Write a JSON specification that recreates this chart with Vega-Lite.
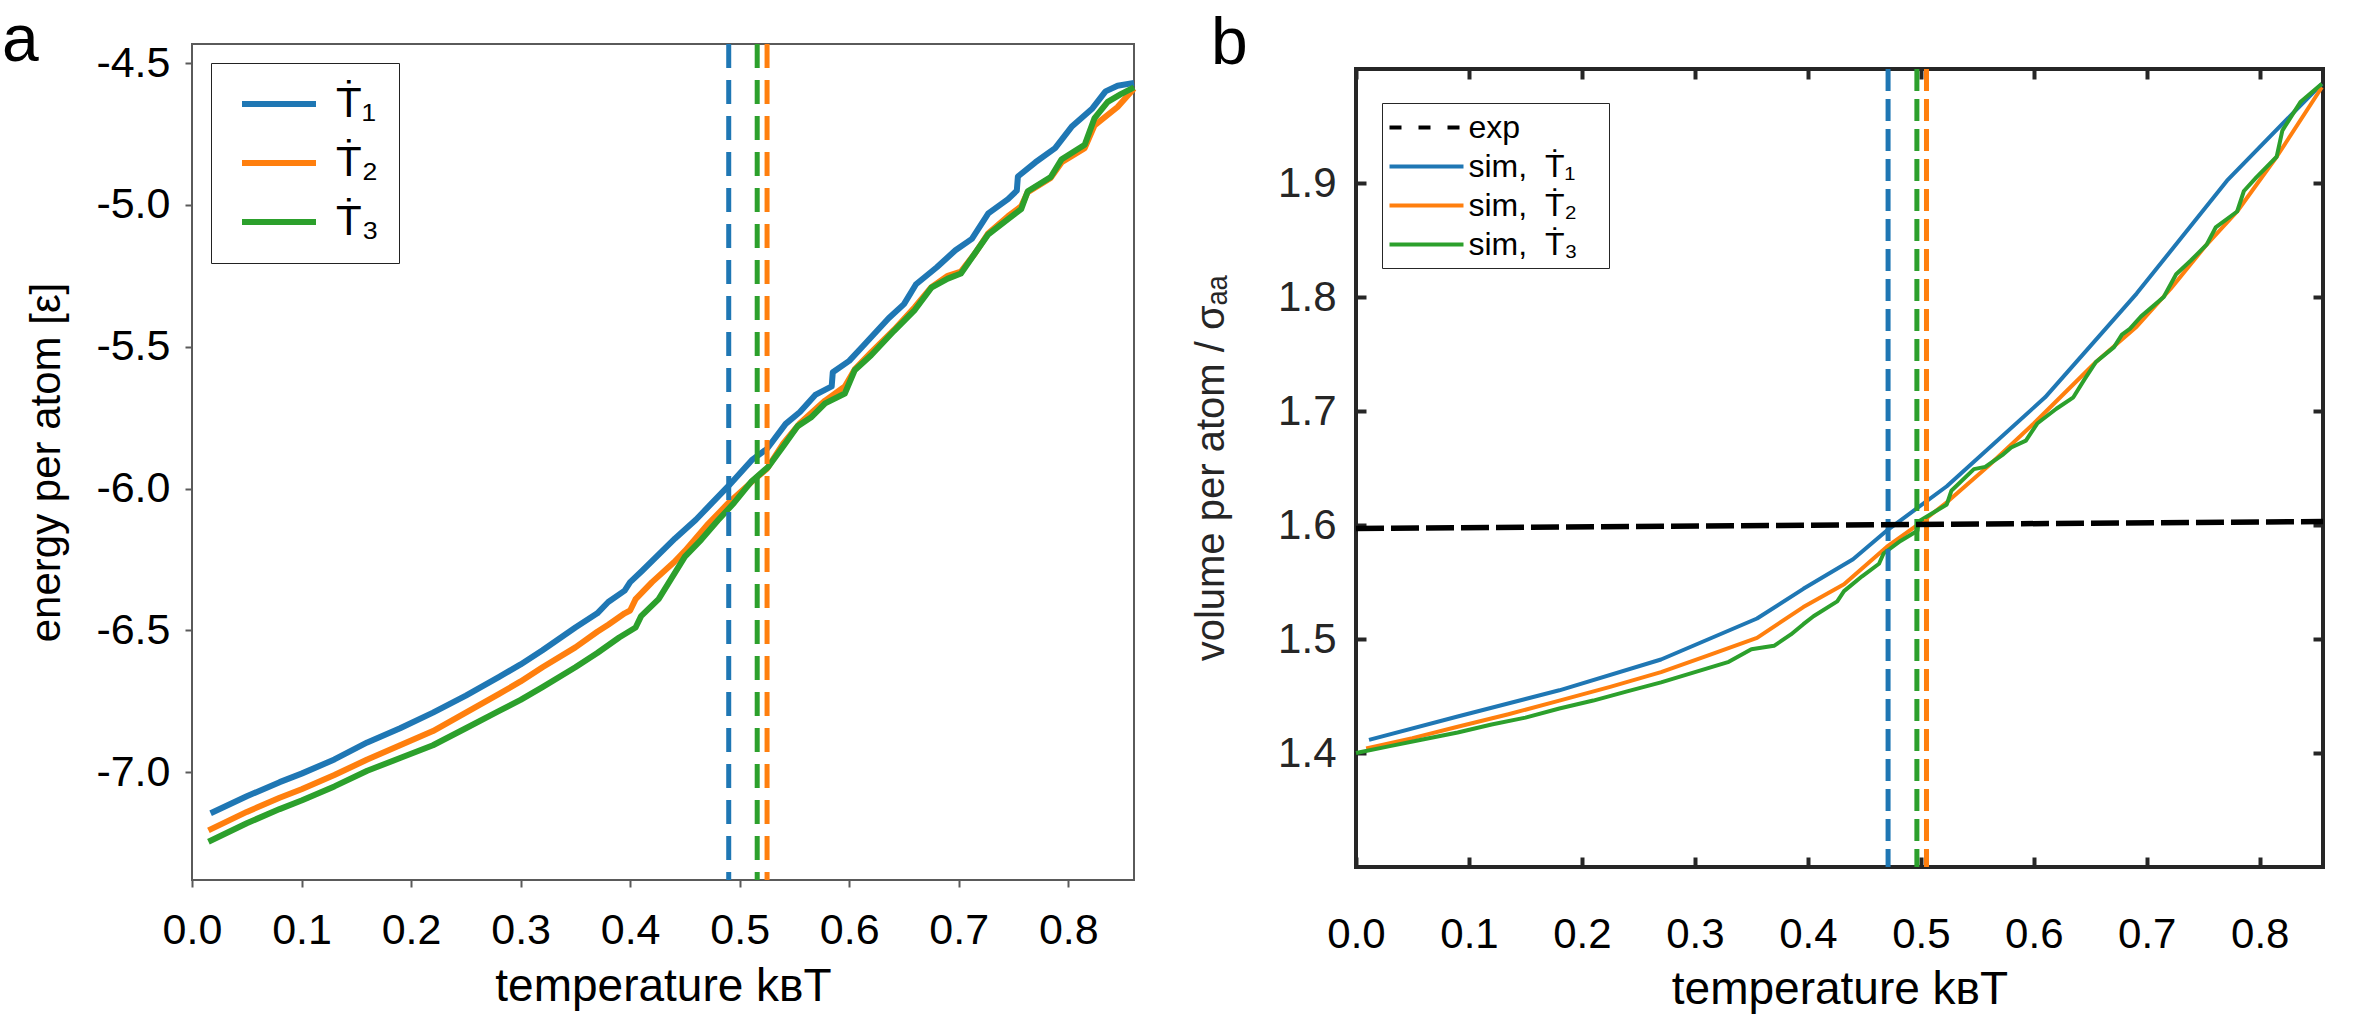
{
  "$schema": "https://vega.github.io/schema/vega-lite/v6.json",
  "padding": {"left": 0, "top": 7, "right": 0, "bottom": 0},
  "spacing": 51,
  "config": {
    "font": "Liberation Sans",
    "locale": {"number": {"decimal": ".", "thousands": ",", "grouping": [3], "currency": ["", ""], "minus": "-"}},
    "axis": {"grid": false, "labelFont": "Liberation Sans", "titleFont": "Liberation Sans", "titleFontWeight": "normal", "labelFlush": false, "labelOverlap": false, "domain": false},
    "legend": {"labelFont": "Liberation Sans", "labelLimit": 500}
  },
  "resolve": {"scale": {"color": "independent"}, "legend": {"color": "independent"}},
  "datasets": {
    "energy": [
      {"s": "Ṫ₁", "T": 0.017, "E": -7.145}, {"s": "Ṫ₁", "T": 0.05, "E": -7.085}, {"s": "Ṫ₁", "T": 0.08, "E": -7.035}, {"s": "Ṫ₁", "T": 0.10, "E": -7.005},
      {"s": "Ṫ₁", "T": 0.13, "E": -6.955}, {"s": "Ṫ₁", "T": 0.16, "E": -6.895}, {"s": "Ṫ₁", "T": 0.19, "E": -6.845}, {"s": "Ṫ₁", "T": 0.22, "E": -6.79},
      {"s": "Ṫ₁", "T": 0.25, "E": -6.73}, {"s": "Ṫ₁", "T": 0.28, "E": -6.665}, {"s": "Ṫ₁", "T": 0.30, "E": -6.62}, {"s": "Ṫ₁", "T": 0.32, "E": -6.57},
      {"s": "Ṫ₁", "T": 0.35, "E": -6.49}, {"s": "Ṫ₁", "T": 0.37, "E": -6.44}, {"s": "Ṫ₁", "T": 0.38, "E": -6.40}, {"s": "Ṫ₁", "T": 0.395, "E": -6.36},
      {"s": "Ṫ₁", "T": 0.40, "E": -6.33}, {"s": "Ṫ₁", "T": 0.411, "E": -6.29}, {"s": "Ṫ₁", "T": 0.441, "E": -6.176}, {"s": "Ṫ₁", "T": 0.46, "E": -6.11},
      {"s": "Ṫ₁", "T": 0.475, "E": -6.05}, {"s": "Ṫ₁", "T": 0.49, "E": -5.99}, {"s": "Ṫ₁", "T": 0.511, "E": -5.90}, {"s": "Ṫ₁", "T": 0.525, "E": -5.86},
      {"s": "Ṫ₁", "T": 0.542, "E": -5.772}, {"s": "Ṫ₁", "T": 0.555, "E": -5.73}, {"s": "Ṫ₁", "T": 0.569, "E": -5.67}, {"s": "Ṫ₁", "T": 0.584, "E": -5.64},
      {"s": "Ṫ₁", "T": 0.585, "E": -5.59}, {"s": "Ṫ₁", "T": 0.60, "E": -5.55}, {"s": "Ṫ₁", "T": 0.612, "E": -5.50}, {"s": "Ṫ₁", "T": 0.636, "E": -5.40},
      {"s": "Ṫ₁", "T": 0.65, "E": -5.35}, {"s": "Ṫ₁", "T": 0.661, "E": -5.28}, {"s": "Ṫ₁", "T": 0.68, "E": -5.22}, {"s": "Ṫ₁", "T": 0.697, "E": -5.16},
      {"s": "Ṫ₁", "T": 0.712, "E": -5.12}, {"s": "Ṫ₁", "T": 0.727, "E": -5.03}, {"s": "Ṫ₁", "T": 0.745, "E": -4.98}, {"s": "Ṫ₁", "T": 0.753, "E": -4.95},
      {"s": "Ṫ₁", "T": 0.754, "E": -4.90}, {"s": "Ṫ₁", "T": 0.77, "E": -4.85}, {"s": "Ṫ₁", "T": 0.788, "E": -4.80}, {"s": "Ṫ₁", "T": 0.803, "E": -4.725},
      {"s": "Ṫ₁", "T": 0.822, "E": -4.66}, {"s": "Ṫ₁", "T": 0.834, "E": -4.60}, {"s": "Ṫ₁", "T": 0.845, "E": -4.58}, {"s": "Ṫ₁", "T": 0.86, "E": -4.57},
      {"s": "Ṫ₂", "T": 0.015, "E": -7.205}, {"s": "Ṫ₂", "T": 0.05, "E": -7.14}, {"s": "Ṫ₂", "T": 0.08, "E": -7.09}, {"s": "Ṫ₂", "T": 0.10, "E": -7.06},
      {"s": "Ṫ₂", "T": 0.13, "E": -7.01}, {"s": "Ṫ₂", "T": 0.16, "E": -6.955}, {"s": "Ṫ₂", "T": 0.19, "E": -6.905}, {"s": "Ṫ₂", "T": 0.22, "E": -6.855},
      {"s": "Ṫ₂", "T": 0.25, "E": -6.79}, {"s": "Ṫ₂", "T": 0.28, "E": -6.725}, {"s": "Ṫ₂", "T": 0.30, "E": -6.68}, {"s": "Ṫ₂", "T": 0.32, "E": -6.63},
      {"s": "Ṫ₂", "T": 0.35, "E": -6.56}, {"s": "Ṫ₂", "T": 0.37, "E": -6.505}, {"s": "Ṫ₂", "T": 0.38, "E": -6.48}, {"s": "Ṫ₂", "T": 0.395, "E": -6.44},
      {"s": "Ṫ₂", "T": 0.40, "E": -6.43}, {"s": "Ṫ₂", "T": 0.405, "E": -6.39}, {"s": "Ṫ₂", "T": 0.42, "E": -6.33}, {"s": "Ṫ₂", "T": 0.44, "E": -6.26},
      {"s": "Ṫ₂", "T": 0.45, "E": -6.22}, {"s": "Ṫ₂", "T": 0.47, "E": -6.13}, {"s": "Ṫ₂", "T": 0.49, "E": -6.05}, {"s": "Ṫ₂", "T": 0.51, "E": -5.98},
      {"s": "Ṫ₂", "T": 0.525, "E": -5.93}, {"s": "Ṫ₂", "T": 0.54, "E": -5.84}, {"s": "Ṫ₂", "T": 0.555, "E": -5.77}, {"s": "Ṫ₂", "T": 0.578, "E": -5.69},
      {"s": "Ṫ₂", "T": 0.596, "E": -5.64}, {"s": "Ṫ₂", "T": 0.605, "E": -5.58}, {"s": "Ṫ₂", "T": 0.62, "E": -5.52}, {"s": "Ṫ₂", "T": 0.641, "E": -5.44},
      {"s": "Ṫ₂", "T": 0.66, "E": -5.36}, {"s": "Ṫ₂", "T": 0.675, "E": -5.29}, {"s": "Ṫ₂", "T": 0.69, "E": -5.25}, {"s": "Ṫ₂", "T": 0.702, "E": -5.235},
      {"s": "Ṫ₂", "T": 0.715, "E": -5.17}, {"s": "Ṫ₂", "T": 0.727, "E": -5.10}, {"s": "Ṫ₂", "T": 0.745, "E": -5.04}, {"s": "Ṫ₂", "T": 0.757, "E": -5.005},
      {"s": "Ṫ₂", "T": 0.763, "E": -4.955}, {"s": "Ṫ₂", "T": 0.784, "E": -4.905}, {"s": "Ṫ₂", "T": 0.794, "E": -4.85}, {"s": "Ṫ₂", "T": 0.815, "E": -4.80},
      {"s": "Ṫ₂", "T": 0.824, "E": -4.72}, {"s": "Ṫ₂", "T": 0.845, "E": -4.655}, {"s": "Ṫ₂", "T": 0.86, "E": -4.59},
      {"s": "Ṫ₃", "T": 0.015, "E": -7.245}, {"s": "Ṫ₃", "T": 0.05, "E": -7.18}, {"s": "Ṫ₃", "T": 0.08, "E": -7.13}, {"s": "Ṫ₃", "T": 0.10, "E": -7.10},
      {"s": "Ṫ₃", "T": 0.13, "E": -7.05}, {"s": "Ṫ₃", "T": 0.16, "E": -6.995}, {"s": "Ṫ₃", "T": 0.19, "E": -6.95}, {"s": "Ṫ₃", "T": 0.22, "E": -6.905},
      {"s": "Ṫ₃", "T": 0.25, "E": -6.845}, {"s": "Ṫ₃", "T": 0.28, "E": -6.785}, {"s": "Ṫ₃", "T": 0.30, "E": -6.745}, {"s": "Ṫ₃", "T": 0.32, "E": -6.70},
      {"s": "Ṫ₃", "T": 0.35, "E": -6.63}, {"s": "Ṫ₃", "T": 0.37, "E": -6.58}, {"s": "Ṫ₃", "T": 0.39, "E": -6.525}, {"s": "Ṫ₃", "T": 0.405, "E": -6.49},
      {"s": "Ṫ₃", "T": 0.41, "E": -6.45}, {"s": "Ṫ₃", "T": 0.426, "E": -6.39}, {"s": "Ṫ₃", "T": 0.45, "E": -6.24}, {"s": "Ṫ₃", "T": 0.465, "E": -6.18},
      {"s": "Ṫ₃", "T": 0.48, "E": -6.113}, {"s": "Ṫ₃", "T": 0.495, "E": -6.05}, {"s": "Ṫ₃", "T": 0.511, "E": -5.974}, {"s": "Ṫ₃", "T": 0.526, "E": -5.924},
      {"s": "Ṫ₃", "T": 0.54, "E": -5.85}, {"s": "Ṫ₃", "T": 0.553, "E": -5.78}, {"s": "Ṫ₃", "T": 0.565, "E": -5.75}, {"s": "Ṫ₃", "T": 0.578, "E": -5.70},
      {"s": "Ṫ₃", "T": 0.596, "E": -5.665}, {"s": "Ṫ₃", "T": 0.605, "E": -5.583}, {"s": "Ṫ₃", "T": 0.62, "E": -5.53}, {"s": "Ṫ₃", "T": 0.641, "E": -5.444},
      {"s": "Ṫ₃", "T": 0.66, "E": -5.37}, {"s": "Ṫ₃", "T": 0.675, "E": -5.292}, {"s": "Ṫ₃", "T": 0.69, "E": -5.26}, {"s": "Ṫ₃", "T": 0.702, "E": -5.242},
      {"s": "Ṫ₃", "T": 0.715, "E": -5.17}, {"s": "Ṫ₃", "T": 0.727, "E": -5.104}, {"s": "Ṫ₃", "T": 0.745, "E": -5.05}, {"s": "Ṫ₃", "T": 0.757, "E": -5.015},
      {"s": "Ṫ₃", "T": 0.763, "E": -4.952}, {"s": "Ṫ₃", "T": 0.784, "E": -4.902}, {"s": "Ṫ₃", "T": 0.794, "E": -4.839}, {"s": "Ṫ₃", "T": 0.815, "E": -4.788},
      {"s": "Ṫ₃", "T": 0.824, "E": -4.694}, {"s": "Ṫ₃", "T": 0.836, "E": -4.637}, {"s": "Ṫ₃", "T": 0.848, "E": -4.61}, {"s": "Ṫ₃", "T": 0.86, "E": -4.586}
    ],
    "tc_a": [
      {"s": "Ṫ₁", "T": 0.490}, {"s": "Ṫ₂", "T": 0.525}, {"s": "Ṫ₃", "T": 0.516}
    ],
    "volume": [
      {"s": "sim,\u00a0\u00a0Ṫ₁", "T": 0.0115, "V": 1.4115}, {"s": "sim,\u00a0\u00a0Ṫ₁", "T": 0.09, "V": 1.432}, {"s": "sim,\u00a0\u00a0Ṫ₁", "T": 0.18, "V": 1.455},
      {"s": "sim,\u00a0\u00a0Ṫ₁", "T": 0.27, "V": 1.482}, {"s": "sim,\u00a0\u00a0Ṫ₁", "T": 0.355, "V": 1.518}, {"s": "sim,\u00a0\u00a0Ṫ₁", "T": 0.396, "V": 1.544},
      {"s": "sim,\u00a0\u00a0Ṫ₁", "T": 0.44, "V": 1.570}, {"s": "sim,\u00a0\u00a0Ṫ₁", "T": 0.471, "V": 1.596}, {"s": "sim,\u00a0\u00a0Ṫ₁", "T": 0.523, "V": 1.634},
      {"s": "sim,\u00a0\u00a0Ṫ₁", "T": 0.61, "V": 1.712}, {"s": "sim,\u00a0\u00a0Ṫ₁", "T": 0.691, "V": 1.803}, {"s": "sim,\u00a0\u00a0Ṫ₁", "T": 0.771, "V": 1.902},
      {"s": "sim,\u00a0\u00a0Ṫ₁", "T": 0.836, "V": 1.968}, {"s": "sim,\u00a0\u00a0Ṫ₁", "T": 0.855, "V": 1.987},
      {"s": "sim,\u00a0\u00a0Ṫ₂", "T": 0.009, "V": 1.404}, {"s": "sim,\u00a0\u00a0Ṫ₂", "T": 0.05, "V": 1.413}, {"s": "sim,\u00a0\u00a0Ṫ₂", "T": 0.09, "V": 1.423},
      {"s": "sim,\u00a0\u00a0Ṫ₂", "T": 0.135, "V": 1.434}, {"s": "sim,\u00a0\u00a0Ṫ₂", "T": 0.18, "V": 1.446}, {"s": "sim,\u00a0\u00a0Ṫ₂", "T": 0.225, "V": 1.458},
      {"s": "sim,\u00a0\u00a0Ṫ₂", "T": 0.27, "V": 1.471}, {"s": "sim,\u00a0\u00a0Ṫ₂", "T": 0.31, "V": 1.485}, {"s": "sim,\u00a0\u00a0Ṫ₂", "T": 0.355, "V": 1.501},
      {"s": "sim,\u00a0\u00a0Ṫ₂", "T": 0.396, "V": 1.528}, {"s": "sim,\u00a0\u00a0Ṫ₂", "T": 0.432, "V": 1.548}, {"s": "sim,\u00a0\u00a0Ṫ₂", "T": 0.47, "V": 1.581},
      {"s": "sim,\u00a0\u00a0Ṫ₂", "T": 0.504, "V": 1.605}, {"s": "sim,\u00a0\u00a0Ṫ₂", "T": 0.523, "V": 1.620}, {"s": "sim,\u00a0\u00a0Ṫ₂", "T": 0.56, "V": 1.652},
      {"s": "sim,\u00a0\u00a0Ṫ₂", "T": 0.6, "V": 1.689}, {"s": "sim,\u00a0\u00a0Ṫ₂", "T": 0.655, "V": 1.743}, {"s": "sim,\u00a0\u00a0Ṫ₂", "T": 0.691, "V": 1.774},
      {"s": "sim,\u00a0\u00a0Ṫ₂", "T": 0.721, "V": 1.807}, {"s": "sim,\u00a0\u00a0Ṫ₂", "T": 0.753, "V": 1.846}, {"s": "sim,\u00a0\u00a0Ṫ₂", "T": 0.780, "V": 1.875},
      {"s": "sim,\u00a0\u00a0Ṫ₂", "T": 0.815, "V": 1.923}, {"s": "sim,\u00a0\u00a0Ṫ₂", "T": 0.855, "V": 1.984},
      {"s": "sim,\u00a0\u00a0Ṫ₃", "T": 0.0, "V": 1.400}, {"s": "sim,\u00a0\u00a0Ṫ₃", "T": 0.03, "V": 1.406}, {"s": "sim,\u00a0\u00a0Ṫ₃", "T": 0.06, "V": 1.412},
      {"s": "sim,\u00a0\u00a0Ṫ₃", "T": 0.09, "V": 1.418}, {"s": "sim,\u00a0\u00a0Ṫ₃", "T": 0.12, "V": 1.425}, {"s": "sim,\u00a0\u00a0Ṫ₃", "T": 0.15, "V": 1.431},
      {"s": "sim,\u00a0\u00a0Ṫ₃", "T": 0.18, "V": 1.439}, {"s": "sim,\u00a0\u00a0Ṫ₃", "T": 0.21, "V": 1.446}, {"s": "sim,\u00a0\u00a0Ṫ₃", "T": 0.24, "V": 1.454},
      {"s": "sim,\u00a0\u00a0Ṫ₃", "T": 0.27, "V": 1.462}, {"s": "sim,\u00a0\u00a0Ṫ₃", "T": 0.30, "V": 1.471}, {"s": "sim,\u00a0\u00a0Ṫ₃", "T": 0.33, "V": 1.480},
      {"s": "sim,\u00a0\u00a0Ṫ₃", "T": 0.35, "V": 1.491}, {"s": "sim,\u00a0\u00a0Ṫ₃", "T": 0.37, "V": 1.494}, {"s": "sim,\u00a0\u00a0Ṫ₃", "T": 0.385, "V": 1.504},
      {"s": "sim,\u00a0\u00a0Ṫ₃", "T": 0.396, "V": 1.513}, {"s": "sim,\u00a0\u00a0Ṫ₃", "T": 0.405, "V": 1.520}, {"s": "sim,\u00a0\u00a0Ṫ₃", "T": 0.426, "V": 1.533},
      {"s": "sim,\u00a0\u00a0Ṫ₃", "T": 0.432, "V": 1.542}, {"s": "sim,\u00a0\u00a0Ṫ₃", "T": 0.448, "V": 1.555}, {"s": "sim,\u00a0\u00a0Ṫ₃", "T": 0.463, "V": 1.566},
      {"s": "sim,\u00a0\u00a0Ṫ₃", "T": 0.467, "V": 1.575}, {"s": "sim,\u00a0\u00a0Ṫ₃", "T": 0.482, "V": 1.586}, {"s": "sim,\u00a0\u00a0Ṫ₃", "T": 0.497, "V": 1.595},
      {"s": "sim,\u00a0\u00a0Ṫ₃", "T": 0.498, "V": 1.603}, {"s": "sim,\u00a0\u00a0Ṫ₃", "T": 0.523, "V": 1.618}, {"s": "sim,\u00a0\u00a0Ṫ₃", "T": 0.527, "V": 1.630},
      {"s": "sim,\u00a0\u00a0Ṫ₃", "T": 0.547, "V": 1.649}, {"s": "sim,\u00a0\u00a0Ṫ₃", "T": 0.557, "V": 1.651}, {"s": "sim,\u00a0\u00a0Ṫ₃", "T": 0.573, "V": 1.662},
      {"s": "sim,\u00a0\u00a0Ṫ₃", "T": 0.580, "V": 1.668}, {"s": "sim,\u00a0\u00a0Ṫ₃", "T": 0.593, "V": 1.674}, {"s": "sim,\u00a0\u00a0Ṫ₃", "T": 0.603, "V": 1.689},
      {"s": "sim,\u00a0\u00a0Ṫ₃", "T": 0.62, "V": 1.702}, {"s": "sim,\u00a0\u00a0Ṫ₃", "T": 0.635, "V": 1.712}, {"s": "sim,\u00a0\u00a0Ṫ₃", "T": 0.645, "V": 1.728},
      {"s": "sim,\u00a0\u00a0Ṫ₃", "T": 0.655, "V": 1.743}, {"s": "sim,\u00a0\u00a0Ṫ₃", "T": 0.671, "V": 1.756}, {"s": "sim,\u00a0\u00a0Ṫ₃", "T": 0.678, "V": 1.767},
      {"s": "sim,\u00a0\u00a0Ṫ₃", "T": 0.685, "V": 1.772}, {"s": "sim,\u00a0\u00a0Ṫ₃", "T": 0.695, "V": 1.783}, {"s": "sim,\u00a0\u00a0Ṫ₃", "T": 0.715, "V": 1.800},
      {"s": "sim,\u00a0\u00a0Ṫ₃", "T": 0.726, "V": 1.820}, {"s": "sim,\u00a0\u00a0Ṫ₃", "T": 0.739, "V": 1.832}, {"s": "sim,\u00a0\u00a0Ṫ₃", "T": 0.753, "V": 1.846},
      {"s": "sim,\u00a0\u00a0Ṫ₃", "T": 0.761, "V": 1.861}, {"s": "sim,\u00a0\u00a0Ṫ₃", "T": 0.780, "V": 1.875}, {"s": "sim,\u00a0\u00a0Ṫ₃", "T": 0.786, "V": 1.893},
      {"s": "sim,\u00a0\u00a0Ṫ₃", "T": 0.797, "V": 1.905}, {"s": "sim,\u00a0\u00a0Ṫ₃", "T": 0.815, "V": 1.923}, {"s": "sim,\u00a0\u00a0Ṫ₃", "T": 0.820, "V": 1.946},
      {"s": "sim,\u00a0\u00a0Ṫ₃", "T": 0.836, "V": 1.971}, {"s": "sim,\u00a0\u00a0Ṫ₃", "T": 0.855, "V": 1.987}
    ],
    "exp": [
      {"s": "exp", "T": 0.0, "V": 1.597}, {"s": "exp", "T": 0.856, "V": 1.603}
    ],
    "tc_b": [
      {"s": "sim,\u00a0\u00a0Ṫ₁", "T": 0.471}, {"s": "sim,\u00a0\u00a0Ṫ₂", "T": 0.505}, {"s": "sim,\u00a0\u00a0Ṫ₃", "T": 0.4965}
    ]
  },
  "hconcat": [
    {
      "width": 942,
      "height": 836,
      "view": {"stroke": "#5a5a5a", "strokeWidth": 2},
      "layer": [
        {
          "data": {"name": "energy"},
          "mark": {"type": "line", "strokeWidth": 6, "strokeJoin": "round"},
          "encoding": {
            "x": {"field": "T", "type": "quantitative",
              "scale": {"domain": [0, 0.86], "nice": false, "zero": false},
              "axis": {"values": [0, 0.1, 0.2, 0.3, 0.4, 0.5, 0.6, 0.7, 0.8], "format": ".1f", "title": "temperature kʙT",
                "titleFontSize": 46, "titleColor": "#000000", "titlePadding": 12,
                "labelFontSize": 43, "labelColor": "#000000", "labelPadding": 22,
                "tickSize": 7, "tickWidth": 2, "tickColor": "#5a5a5a"}},
            "y": {"field": "E", "type": "quantitative",
              "scale": {"domain": [-7.38, -4.433], "nice": false, "zero": false},
              "axis": {"values": [-7, -6.5, -6, -5.5, -5, -4.5], "format": ".1f", "title": "energy per atom [ε]",
                "titleFontSize": 42, "titleColor": "#000000", "titlePadding": 27,
                "labelFontSize": 43, "labelColor": "#000000", "labelPadding": 15,
                "tickSize": 7, "tickWidth": 2, "tickColor": "#5a5a5a"}},
            "color": {"field": "s", "type": "nominal",
              "scale": {"domain": ["Ṫ₁", "Ṫ₂", "Ṫ₃"], "range": ["#1f77b4", "#ff7f0e", "#2ca02c"]},
              "legend": {"orient": "top-left", "offset": 19, "title": null, "strokeColor": "#222222", "fillColor": "#ffffff",
                "padding": 20, "rowPadding": 17, "symbolType": "M-2.5,0H2.5", "symbolSize": 876, "symbolStrokeWidth": 6,
                "symbolOffset": 27, "labelFontSize": 42, "labelOffset": 36, "labelColor": "#000000",
                "encode": {"symbols": {"update": {"strokeDash": {"value": [1, 0]}}}}}}
          }
        },
        {
          "data": {"name": "tc_a"},
          "mark": {"type": "rule", "strokeWidth": 5, "strokeDash": [24, 12]},
          "encoding": {
            "x": {"field": "T", "type": "quantitative"},
            "color": {"field": "s", "type": "nominal"}
          }
        },
        {
          "data": {"values": [{}]},
          "mark": {"type": "text", "text": "a", "fontSize": 66, "font": "Liberation Sans", "align": "left", "baseline": "alphabetic", "color": "#000000", "clip": false},
          "encoding": {
            "x": {"datum": -0.1735, "type": "quantitative"},
            "y": {"datum": -4.493, "type": "quantitative"}
          }
        }
      ]
    },
    {
      "spacing": -37,
      "vconcat": [
        {
          "width": 967,
          "height": 1,
          "view": {"stroke": null},
          "data": {"values": []},
          "mark": "rule",
          "encoding": {}
        },
        {
          "width": 967,
          "height": 798,
          "view": {"stroke": "#262626", "strokeWidth": 4},
          "resolve": {"axis": {"x": "independent", "y": "independent"}},
          "layer": [
            {
              "data": {"name": "volume"},
              "mark": {"type": "line", "strokeWidth": 4, "strokeJoin": "round"},
              "encoding": {
                "x": {"field": "T", "type": "quantitative",
                  "scale": {"domain": [0, 0.856], "nice": false, "zero": false},
                  "axis": {"orient": "bottom", "values": [0, 0.1, 0.2, 0.3, 0.4, 0.5, 0.6, 0.7, 0.8], "format": ".1f", "title": "temperature kʙT",
                    "titleFontSize": 46, "titleColor": "#000000", "titlePadding": 12,
                    "labelFontSize": 42, "labelColor": "#000000", "labelPadding": 57,
                    "tickSize": -10, "tickWidth": 4, "tickColor": "#262626"}},
                "y": {"field": "V", "type": "quantitative",
                  "scale": {"domain": [1.3, 2.0], "nice": false, "zero": false},
                  "axis": {"orient": "left", "values": [1.4, 1.5, 1.6, 1.7, 1.8, 1.9], "format": ".1f", "title": "volume per atom / σₐₐ",
                    "titleFontSize": 40, "titleColor": "#262626", "titlePadding": 46,
                    "labelFontSize": 42, "labelColor": "#262626", "labelPadding": 30,
                    "tickSize": -10, "tickWidth": 4, "tickColor": "#262626"}},
                "color": {"field": "s", "type": "nominal",
                  "scale": {"domain": ["exp", "sim,\u00a0\u00a0Ṫ₁", "sim,\u00a0\u00a0Ṫ₂", "sim,\u00a0\u00a0Ṫ₃"], "range": ["#000000", "#1f77b4", "#ff7f0e", "#2ca02c"]},
                  "legend": {"orient": "none", "legendX": 26, "legendY": 59, "title": null, "strokeColor": "#262626", "fillColor": "#ffffff",
                    "padding": 7.5, "rowPadding": 6, "symbolType": "M-2.5,0H2.5", "symbolSize": 876, "symbolStrokeWidth": 4,
                    "symbolOffset": 20, "labelFontSize": 32, "labelOffset": 25, "labelColor": "#000000",
                    "labelExpr": "datum.label + '\u2800'",
                    "encode": {"symbols": {"update": {"strokeDash": {"signal": "datum.value === 'exp' ? [12, 17] : [1, 0]"}}}}}}
              }
            },
            {
              "data": {"name": "tc_b"},
              "mark": {"type": "rule", "strokeWidth": 5, "strokeDash": [22, 8]},
              "encoding": {
                "x": {"field": "T", "type": "quantitative", "axis": null},
                "color": {"field": "s", "type": "nominal"}
              }
            },
            {
              "data": {"name": "exp"},
              "mark": {"type": "line", "strokeWidth": 5.5, "strokeDash": [28, 7]},
              "encoding": {
                "x": {"field": "T", "type": "quantitative",
                  "axis": {"orient": "top", "values": [0, 0.1, 0.2, 0.3, 0.4, 0.5, 0.6, 0.7, 0.8], "labels": false, "title": null,
                    "tickSize": -10, "tickWidth": 4, "tickColor": "#262626"}},
                "y": {"field": "V", "type": "quantitative",
                  "axis": {"orient": "right", "values": [1.4, 1.5, 1.6, 1.7, 1.8, 1.9], "labels": false, "title": null,
                    "tickSize": -10, "tickWidth": 4, "tickColor": "#262626"}},
                "color": {"field": "s", "type": "nominal"}
              }
            },
            {
              "data": {"values": [{}]},
              "mark": {"type": "text", "text": "b", "fontSize": 66, "font": "Liberation Sans", "align": "left", "baseline": "alphabetic", "color": "#000000", "clip": false},
              "encoding": {
                "x": {"datum": -0.1283, "type": "quantitative", "axis": null},
                "y": {"datum": 2.0044, "type": "quantitative", "axis": null}
              }
            }
          ]
        }
      ]
    }
  ]
}
